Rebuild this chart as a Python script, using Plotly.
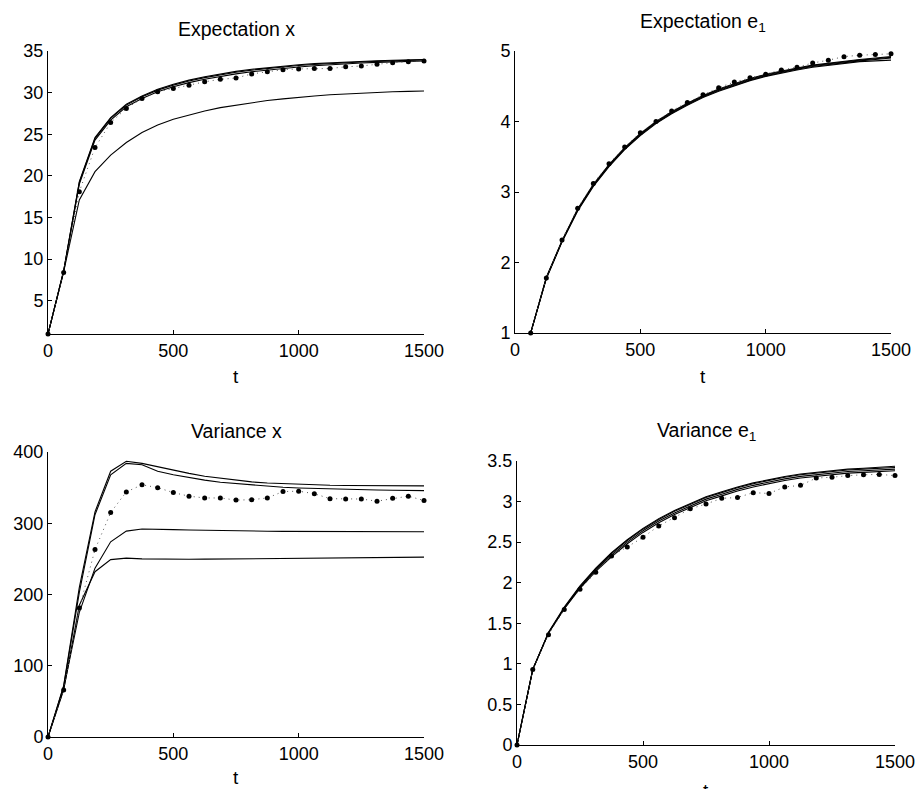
import plotly.graph_objects as go

# ---------------- data ----------------
t = [0, 62.5, 125, 187.5, 250, 312.5, 375, 437.5, 500, 562.5, 625, 687.5, 750,
     812.5, 875, 937.5, 1000, 1062.5, 1125, 1187.5, 1250, 1312.5, 1375, 1437.5, 1500]

# Expectation x
ex_a = [1.0, 8.6, 19.3, 24.6, 27.0, 28.6, 29.6, 30.4, 31.0, 31.5, 31.9, 32.25, 32.55,
        32.8, 33.0, 33.2, 33.35, 33.48, 33.58, 33.67, 33.75, 33.82, 33.88, 33.93, 33.97]
ex_b = [1.0, 8.6, 19.2, 24.5, 26.9, 28.5, 29.5, 30.3, 30.9, 31.4, 31.8, 32.15, 32.45,
        32.7, 32.9, 33.1, 33.25, 33.38, 33.5, 33.6, 33.68, 33.75, 33.82, 33.88, 33.93]
ex_c = [1.0, 8.5, 19.0, 24.3, 26.7, 28.3, 29.3, 30.1, 30.7, 31.2, 31.6, 31.95, 32.25,
        32.5, 32.72, 32.92, 33.08, 33.22, 33.35, 33.46, 33.55, 33.63, 33.7, 33.76, 33.8]
ex_d = [1.0, 8.5, 17.1, 20.5, 22.5, 24.0, 25.2, 26.1, 26.8, 27.3, 27.8, 28.2, 28.5,
        28.8, 29.05, 29.25, 29.45, 29.6, 29.75, 29.85, 29.95, 30.03, 30.1, 30.15, 30.2]
ex_sim = [1.0, 8.4, 18.1, 23.4, 26.4, 28.1, 29.3, 30.1, 30.5, 30.9, 31.3, 31.6, 31.75,
          32.25, 32.5, 32.75, 32.85, 32.9, 32.9, 33.1, 33.2, 33.4, 33.6, 33.7, 33.8]

# Expectation e1
ee_a = [None, 1.0, 1.79, 2.31, 2.76, 3.11, 3.39, 3.63, 3.83, 4.0, 4.14, 4.26, 4.37,
        4.46, 4.54, 4.61, 4.67, 4.72, 4.76, 4.8, 4.83, 4.86, 4.88, 4.9, 4.92]
ee_b = [None, 1.0, 1.78, 2.3, 2.75, 3.1, 3.38, 3.62, 3.82, 3.99, 4.13, 4.25, 4.36,
        4.45, 4.53, 4.6, 4.66, 4.71, 4.75, 4.79, 4.82, 4.85, 4.87, 4.89, 4.91]
ee_c = [None, 1.0, 1.77, 2.29, 2.73, 3.08, 3.36, 3.6, 3.8, 3.97, 4.11, 4.23, 4.34,
        4.43, 4.51, 4.58, 4.64, 4.69, 4.73, 4.77, 4.8, 4.83, 4.85, 4.86, 4.87]
ee_d = [None, 1.0, 1.78, 2.3, 2.74, 3.09, 3.37, 3.61, 3.81, 3.98, 4.12, 4.24, 4.35,
        4.44, 4.52, 4.59, 4.65, 4.7, 4.74, 4.78, 4.81, 4.84, 4.86, 4.88, 4.9]
ee_sim = [None, 1.0, 1.78, 2.32, 2.77, 3.12, 3.4, 3.64, 3.84, 4.0, 4.15, 4.27, 4.38,
          4.48, 4.56, 4.62, 4.67, 4.73, 4.77, 4.83, 4.87, 4.92, 4.94, 4.95, 4.96]

# Variance x
vx_a = [0, 72, 210, 316, 373, 387, 384, 379, 374, 370, 366, 363, 360,
        358, 356.5, 355.5, 354.5, 353.8, 353.3, 353.0, 352.8, 352.7, 352.6, 352.5, 352.4]
vx_b = [0, 71, 203, 312, 368, 384, 382, 373, 368, 364, 360.5, 357.5, 355.5,
        354, 352, 350.5, 349.5, 348.8, 348, 347.5, 347, 346.6, 346.3, 346.0, 345.8]
vx_c = [0, 68, 175, 237, 274, 289, 292, 292, 291, 290.5, 290, 289.5, 289,
        289, 288.8, 288.6, 288.5, 288.4, 288.3, 288.2, 288.1, 288, 288, 288, 288]
vx_d = [0, 66, 185, 232, 249, 251, 250, 249.5, 249.5, 249.5, 249.6, 249.8, 250,
        250.2, 250.4, 250.6, 250.8, 251, 251.2, 251.4, 251.6, 251.8, 252, 252.2, 252.4]
vx_sim = [0, 66, 181, 263, 315, 344, 354, 350, 343, 338, 335.5, 335.5, 332.5,
          333, 335.5, 344.5, 345, 341.5, 334.5, 334, 334, 331, 335, 338, 332]

# Variance e1
ve_a = [0, 0.93, 1.39, 1.70, 1.96, 2.18, 2.37, 2.53, 2.67, 2.79, 2.89, 2.98, 3.06,
        3.12, 3.18, 3.23, 3.27, 3.31, 3.34, 3.36, 3.38, 3.40, 3.41, 3.425, 3.435]
ve_b = [0, 0.93, 1.38, 1.69, 1.95, 2.17, 2.36, 2.52, 2.66, 2.78, 2.88, 2.97, 3.05,
        3.11, 3.17, 3.22, 3.26, 3.30, 3.33, 3.35, 3.37, 3.39, 3.40, 3.41, 3.42]
ve_c = [0, 0.93, 1.38, 1.68, 1.94, 2.16, 2.34, 2.50, 2.64, 2.76, 2.86, 2.95, 3.03,
        3.09, 3.15, 3.20, 3.24, 3.28, 3.31, 3.33, 3.35, 3.37, 3.38, 3.39, 3.40]
ve_d = [0, 0.93, 1.38, 1.68, 1.93, 2.14, 2.32, 2.48, 2.62, 2.74, 2.84, 2.93, 3.01,
        3.07, 3.13, 3.18, 3.22, 3.26, 3.29, 3.31, 3.33, 3.35, 3.36, 3.37, 3.38]
ve_sim = [0, 0.93, 1.36, 1.67, 1.92, 2.13, 2.33, 2.44, 2.56, 2.70, 2.80, 2.91, 2.97,
          3.04, 3.05, 3.11, 3.10, 3.18, 3.20, 3.29, 3.30, 3.32, 3.33, 3.335, 3.32]

titles = ["Expectation x", "Expectation e<sub>1</sub>", "Variance x", "Variance e<sub>1</sub>"]
xticks = [0, 500, 1000, 1500]
yticks = [[5, 10, 15, 20, 25, 30, 35], [1, 2, 3, 4, 5],
          [0, 100, 200, 300, 400], [0, 0.5, 1, 1.5, 2, 2.5, 3, 3.5]]
ytick_text = [["5", "10", "15", "20", "25", "30", "35"], ["1", "2", "3", "4", "5"],
              ["0", "100", "200", "300", "400"], ["0", "0.5", "1", "1.5", "2", "2.5", "3", "3.5"]]
yranges = [[1, 35], [1, 5], [0, 400], [0, 3.5]]

panels = [
    [ex_a, ex_b, ex_c, ex_d, ex_sim],
    [ee_a, ee_b, ee_c, ee_d, ee_sim],
    [vx_a, vx_b, vx_c, vx_d, vx_sim],
    [ve_a, ve_b, ve_c, ve_d, ve_sim],
]

# ---------------- layout geometry (window pixels) ----------------
W, H = 916, 789
boxes = [  # left, right, top, bottom
    (48, 424, 51, 334),
    (515, 891, 51, 333),
    (48, 424, 452, 737),
    (517, 895, 461, 745),
]


def px(xp):
    return xp / W


def py(yp):
    return 1 - yp / H


FONT = "Liberation Sans, Arial, Helvetica, sans-serif"

fig = go.Figure()
layout = dict(
    width=W, height=H,
    margin=dict(l=0, r=0, t=0, b=0, autoexpand=False),
    paper_bgcolor="white", plot_bgcolor="white",
    showlegend=False,
    font=dict(family=FONT, size=18, color="black"),
)

annotations = []
for i, (series, box) in enumerate(zip(panels, boxes)):
    k = "" if i == 0 else str(i + 1)
    xa, ya = "x" + k, "y" + k
    l, r, tp, bt = box
    for s in series[:4]:
        fig.add_trace(go.Scatter(x=t, y=s, mode="lines", xaxis=xa, yaxis=ya,
                                 line=dict(color="black", width=1.1),
                                 connectgaps=False, hoverinfo="skip"))
    fig.add_trace(go.Scatter(x=t, y=series[4], mode="lines+markers", xaxis=xa, yaxis=ya,
                             line=dict(color="#555555", width=1, dash="1px,4px"),
                             marker=dict(color="black", size=5),
                             cliponaxis=False, hoverinfo="skip"))
    common = dict(showline=True, linecolor="black", linewidth=1, ticks="inside",
                  ticklen=4, tickcolor="black", tickwidth=1, showgrid=False,
                  zeroline=False, mirror=False, automargin=False,
                  tickfont=dict(size=18, family=FONT, color="black"))
    layout["xaxis" + k] = dict(domain=[px(l), px(r)], range=[0, 1500], anchor=ya,
                               tickmode="array", tickvals=xticks,
                               ticktext=[str(v) for v in xticks], **common)
    layout["yaxis" + k] = dict(domain=[py(bt), py(tp)], range=yranges[i], anchor=xa,
                               tickmode="array", tickvals=yticks[i], ticktext=ytick_text[i],
                               **common)
    cx = px((l + r) / 2)
    title_y = [29, 22, 431, 431][i]
    annotations.append(dict(text=titles[i], x=cx, y=py(title_y), xref="paper", yref="paper",
                            xanchor="center", yanchor="middle", showarrow=False,
                            font=dict(size=19.5, family=FONT, color="black")))
    t_y = [376, 376, 777, 790][i]
    annotations.append(dict(text="t", x=cx, y=py(t_y), xref="paper", yref="paper",
                            xanchor="center", yanchor="middle", showarrow=False,
                            font=dict(size=19, family=FONT, color="black")))

layout["annotations"] = annotations
fig.update_layout(**layout)
fig.write_html(
    "out.html",
    config={"displayModeBar": False},
    post_script="document.body.style.margin='0px';document.body.style.overflow='hidden';",
)
